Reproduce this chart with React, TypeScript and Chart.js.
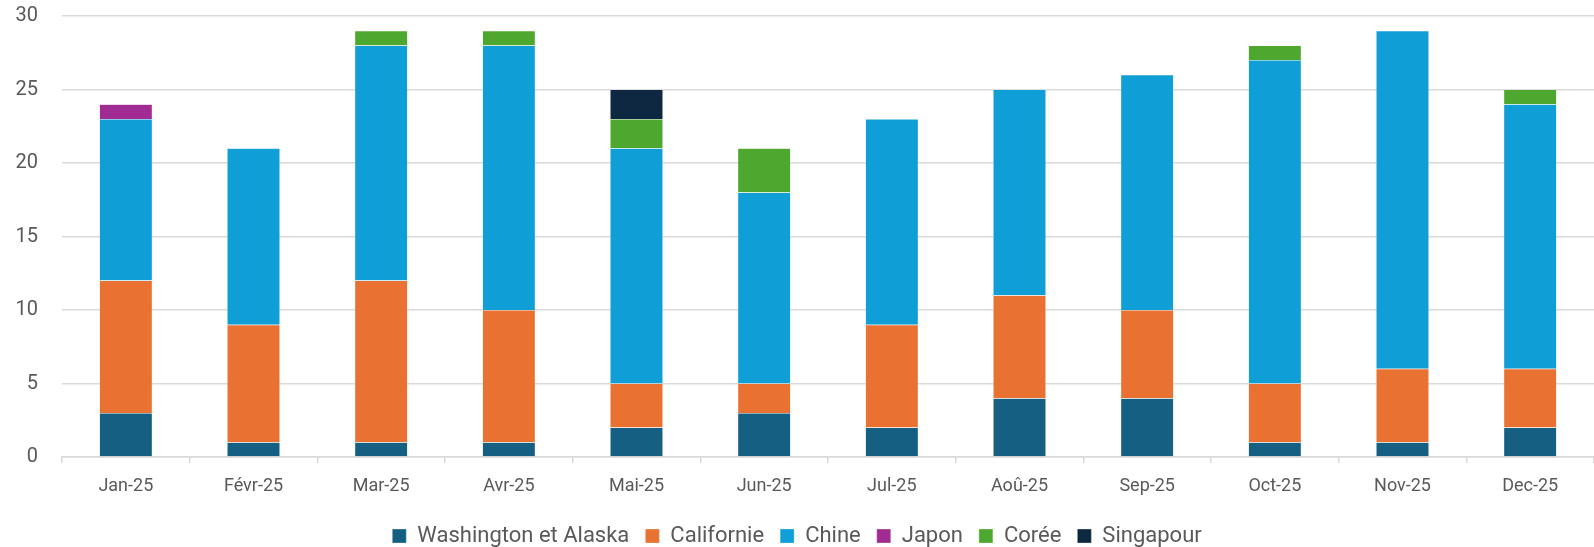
import React, { useEffect, useRef } from "react";
import { Chart, registerables } from "chart.js";

Chart.register(...registerables);

const categories = ["Jan-25", "Févr-25", "Mar-25", "Avr-25", "Mai-25", "Jun-25", "Jul-25", "Aoû-25", "Sep-25", "Oct-25", "Nov-25", "Dec-25"];
const washington = [3, 1, 1, 1, 2, 3, 2, 4, 4, 1, 1, 2];
const californie = [9, 8, 11, 9, 3, 2, 7, 7, 6, 4, 5, 4];
const chine = [11, 12, 16, 18, 16, 13, 14, 14, 16, 22, 23, 18];
const japon = [1, 0, 0, 0, 0, 0, 0, 0, 0, 0, 0, 0];
const coree = [0, 0, 1, 1, 2, 3, 0, 0, 0, 1, 0, 1];
const singapour = [0, 0, 0, 0, 2, 0, 0, 0, 0, 0, 0, 0];

const FONT = "'Liberation Sans Narrow', Roboto, sans-serif";
const TEXT = "#595959";

export default function App() {
  const ref = useRef<HTMLCanvasElement | null>(null);
  useEffect(() => {
    if (!ref.current) return;
    const mk = (label: string, data: number[], color: string) => ({
      label,
      data,
      backgroundColor: color,
      borderColor: "rgba(255,255,255,0.6)",
      borderWidth: 0.5,
      categoryPercentage: 1,
      barPercentage: 0.415,
    });
    const chart = new Chart(ref.current, {
      type: "bar",
      data: {
        labels: categories,
        datasets: [
          mk("Washington et Alaska", washington, "#156082"),
          mk("Californie", californie, "#E97132"),
          mk("Chine", chine, "#0F9ED5"),
          mk("Japon", japon, "#A02B93"),
          mk("Corée", coree, "#4EA72E"),
          mk("Singapour", singapour, "#0E2841"),
        ],
      },
      options: {
        animation: false,
        responsive: false,
        maintainAspectRatio: false,
        layout: { padding: { left: 0, right: 0, top: 16, bottom: -10 } },
        plugins: {
          tooltip: { enabled: false },
          legend: {
            position: "bottom",
            labels: {
              boxWidth: 14,
              boxHeight: 14,
              padding: 16,
              color: TEXT,
              font: { family: FONT, size: 22 },
            },
          },
        },
        scales: {
          x: {
            stacked: true,
            border: { display: true, color: "#d9d9d9", width: 1.5 },
            grid: { display: true, drawOnChartArea: false, drawTicks: true, tickLength: 6, color: "#d9d9d9", lineWidth: 1.5, offset: true },
            ticks: { color: TEXT, font: { family: FONT, size: 18 }, padding: 13, maxRotation: 0 },
            afterFit: (s: any) => { s.height = 52; },
          },
          y: {
            stacked: true,
            min: 0,
            max: 30,
            border: { display: false },
            grid: { color: "#d9d9d9", lineWidth: 1.5, drawTicks: true, tickLength: 24, tickColor: "rgba(0,0,0,0)" },
            ticks: { stepSize: 5, color: TEXT, font: { family: FONT, size: 20 }, padding: 0 },
            afterFit: (s: any) => { s.width = 62; },
          },
        },
      },
    });
    return () => chart.destroy();
  }, []);
  return (
    <div style={{ position: "fixed", left: 0, top: 0, width: 1594, height: 547, background: "#fff" }}>
      <canvas ref={ref} width={1594} height={547} style={{ width: 1594, height: 547 }} />
    </div>
  );
}
